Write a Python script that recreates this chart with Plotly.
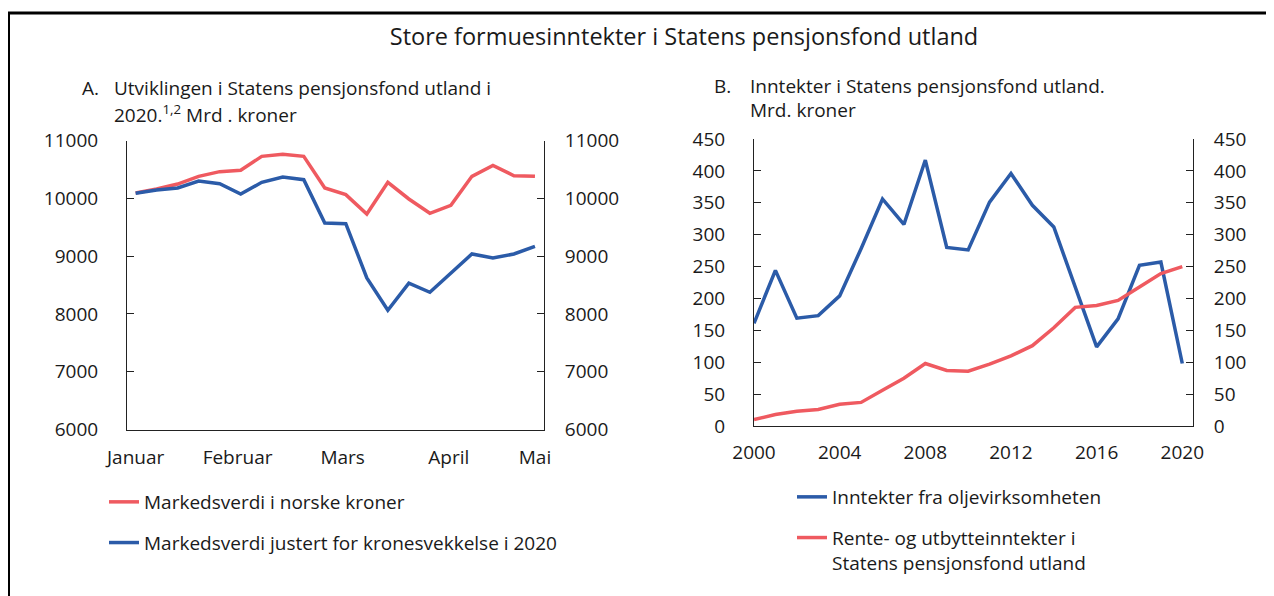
import plotly.graph_objects as go

# panel A: weekly market value 2020 (Mrd. kroner)
weeks = list(range(20))
mv_nok = [10095, 10164, 10250, 10383, 10464, 10487, 10729, 10764, 10729, 10181,
          10066, 9731, 10279, 9991, 9743, 9881, 10383, 10573, 10394, 10383]
mv_adj = [10089, 10146, 10181, 10302, 10256, 10077, 10279, 10371, 10325, 9576,
          9564, 8624, 8065, 8532, 8376, 8711, 9039, 8970, 9039, 9172]
month_ticks = [0, 4.85, 9.85, 14.9, 19]
month_labels = ['Januar', 'Februar', 'Mars', 'April', 'Mai']

# panel B: yearly income (Mrd. kroner)
years = list(range(2000, 2021))
oil_income = [161, 244, 169, 173, 204, 278, 356, 316, 417, 280, 276, 351, 396,
              346, 312, 218, 124, 168, 252, 257, 98]
fund_income = [10, 18, 23, 26, 34, 37, 56, 75, 98, 87, 86, 97, 110,
               126, 154, 186, 189, 197, 218, 239, 250]

RED = '#EF5A60'
BLUE = '#2B5BA8'
FONT = 'Open Sans'
FS = 19
# page has an 8px body margin, so the paper is shifted by 8px
W, H = 1266, 588
OFF = 8

def px(x):
    return (x - OFF) / W

def py(y):
    return 1 - (y - OFF) / H

fig = go.Figure()
fig.add_traces([
    go.Scatter(x=weeks, y=mv_nok, mode='lines', name='Markedsverdi i norske kroner',
               line=dict(color=RED, width=3.5), xaxis='x', yaxis='y', legend='legend', legendgroup='a1'),
    go.Scatter(x=weeks, y=mv_adj, mode='lines', name='Markedsverdi justert for kronesvekkelse i 2020',
               line=dict(color=BLUE, width=3.5), xaxis='x', yaxis='y2', legend='legend', legendgroup='a2'),
    go.Scatter(x=years, y=oil_income, mode='lines', name='Inntekter fra oljevirksomheten',
               line=dict(color=BLUE, width=3.5), xaxis='x2', yaxis='y3', legend='legend2', legendgroup='b1'),
    go.Scatter(x=years, y=fund_income, mode='lines', name='Rente- og utbytteinntekter i<br>Statens pensjonsfond utland',
               line=dict(color=RED, width=3.5), xaxis='x2', yaxis='y4', legend='legend2', legendgroup='b2'),
])

yax = dict(showline=True, linecolor='#222', linewidth=1, ticks='inside', ticklen=7,
           tickcolor='#222', showgrid=False, zeroline=False, tickfont=dict(size=FS, color='#1a1a1a'),
           tickformat='d', automargin=False)
xax = dict(showline=True, linecolor='#222', linewidth=1, ticks='', showgrid=False, zeroline=False,
           tickfont=dict(size=FS, color='#1a1a1a'), automargin=False)

dA = [px(127), px(544)]
dB = [px(754), px(1193)]
yA = [py(429.5), py(140.7)]
yB = [py(426), py(139)]

def ann(text, x, y):
    return dict(text=text, x=px(x), y=py(y), xref='paper', yref='paper', xanchor='left',
                yanchor='middle', showarrow=False, font=dict(size=FS))

fig.update_layout(
    width=W, height=H, margin=dict(l=0, r=0, t=0, b=0),
    paper_bgcolor='white', plot_bgcolor='white',
    font=dict(family=FONT, size=FS, color='#1a1a1a'),
    title=dict(text='Store formuesinntekter i Statens pensjonsfond utland', x=px(684), xanchor='center',
               y=py(37), yanchor='middle', font=dict(size=23.5)),
    xaxis=dict(xax, domain=dA, anchor='y', range=[-0.41, 19.43], tickvals=month_ticks,
               ticktext=month_labels, ticklabelstandoff=11),
    yaxis=dict(yax, domain=yA, anchor='x', range=[6000, 11000], dtick=1000, ticklabelstandoff=24),
    yaxis2=dict(yax, overlaying='y', side='right', anchor='x', range=[6000, 11000], dtick=1000,
                ticklabelstandoff=16),
    xaxis2=dict(xax, domain=dB, anchor='y3', range=[2000, 2020.5], dtick=4, tick0=2000,
                ticklabelstandoff=9),
    yaxis3=dict(yax, domain=yB, anchor='x2', range=[0, 450], dtick=50, ticklabelstandoff=24),
    yaxis4=dict(yax, overlaying='y3', side='right', anchor='x2', range=[0, 450], dtick=50,
                ticklabelstandoff=16),
    legend=dict(x=px(104), y=py(483), xanchor='left', yanchor='top', tracegroupgap=13,
                font=dict(size=FS), bgcolor='rgba(0,0,0,0)'),
    legend2=dict(x=px(792), y=py(478), xanchor='left', yanchor='top', tracegroupgap=13,
                 font=dict(size=FS), valign='top', bgcolor='rgba(0,0,0,0)'),
    shapes=[dict(type='rect', xref='paper', yref='paper', x0=px(8.5), x1=1.02, y0=-0.02, y1=py(13),
                 line=dict(color='black', width=3))],
    annotations=[
        ann('A.', 80, 88),
        ann('Utviklingen i Statens pensjonsfond utland i', 112, 88),
        ann('2020.<sup>1,2</sup> Mrd . kroner', 112, 114),
        ann('B.', 712, 86),
        ann('Inntekter i Statens pensjonsfond utland.', 748, 86),
        ann('Mrd. kroner', 748, 110),
    ],
)

fig.write_html('out.html')
